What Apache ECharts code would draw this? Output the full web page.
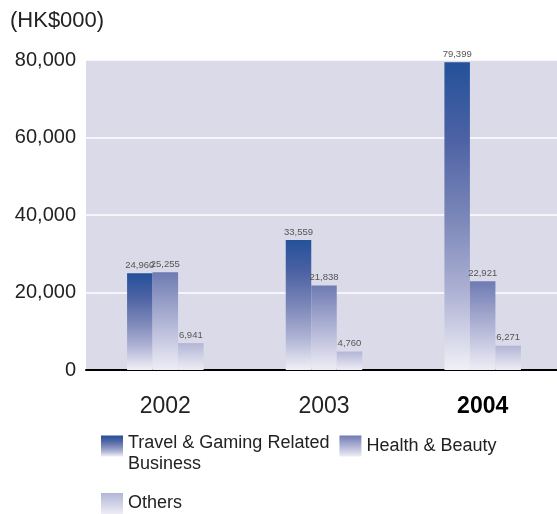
<!DOCTYPE html>
<html>
<head>
<meta charset="utf-8">
<script src="https://cdn.jsdelivr.net/npm/echarts@6/dist/echarts.min.js"></script>
<style>html,body{margin:0;padding:0;background:#fff;}#c{width:557px;height:514px;}</style>
</head>
<body>
<div id="c"></div>
<script>
const categories = ['2002', '2003', '2004'];
const seriesNames = ['Travel & Gaming Related\nBusiness', 'Health & Beauty', 'Others'];
const travel = [24960, 33559, 79399];
const health = [25255, 21838, 22921];
const others = [6941, 4760, 6271];
const unitLabel = '(HK$000)';

const FONT = "'Liberation Sans', Arial, Helvetica, sans-serif";
function grad(stops) {
  return new echarts.graphic.LinearGradient(0, 0, 0, 1, stops.map((c, i) => ({ offset: i / (stops.length - 1), color: c })));
}
const colors = [
  grad(['#23519a', '#4d62a4', '#7a86b8', '#aeb2d4', '#f1f0f7']),
  grad(['#6e7ab2', '#9aa1c9', '#c4c6e0', '#eeedf5']),
  grad(['#b2b5d6', '#d0d1e6', '#eeedf5'])
];
const chart = echarts.init(document.getElementById('c'), null, { renderer: 'canvas' });
const values = [travel, health, others];
const label = {
  show: true, position: 'top', distance: 3, fontSize: 9.5, color: '#555', fontFamily: FONT,
  formatter: p => echarts.format.addCommas(p.value)
};
const legendText = { fontSize: 18, color: '#222', lineHeight: 21, fontFamily: FONT, rich: { s: { lineHeight: 16, fontSize: 10 } } };
chart.setOption({
  animation: false,
  textStyle: { fontFamily: FONT },
  title: {
    text: unitLabel, left: 10, top: 10, padding: 0,
    textStyle: { fontSize: 22, fontWeight: 'normal', color: '#222', fontFamily: FONT }
  },
  legend: [
    {
      left: 101, top: 417, padding: 0, itemWidth: 22, itemHeight: 21, itemGap: 10,
      selectedMode: false, icon: 'rect',
      textStyle: legendText,
      formatter: n => n === seriesNames[0] ? '{s| }\n' + n : n,
      data: [seriesNames[0], seriesNames[1]]
    },
    {
      left: 101, top: 493, padding: 0, itemWidth: 22, itemHeight: 21,
      selectedMode: false, icon: 'rect',
      textStyle: legendText,
      data: [seriesNames[2]]
    }
  ],
  grid: {
    left: 86, width: 476, top: 60, bottom: 144,
    outerBoundsMode: 'none', containLabel: false,
    show: true, backgroundColor: '#dadae9', borderWidth: 0
  },
  xAxis: {
    type: 'category', data: categories,
    axisLine: { lineStyle: { color: '#000', width: 2 } },
    axisTick: { show: false },
    axisLabel: {
      fontSize: 23, color: '#222', margin: 25, fontFamily: FONT,
      formatter: v => v === '2004' ? '{b|' + v + '}' : v,
      rich: { b: { fontSize: 23, fontWeight: 'bold', color: '#000', fontFamily: FONT } }
    }
  },
  yAxis: {
    type: 'value', min: 0, max: 80000, interval: 20000,
    axisLine: { show: false }, axisTick: { show: false },
    splitLine: { lineStyle: { color: '#fff', width: 1.5 } },
    axisLabel: {
      fontSize: 20, color: '#222', margin: 10, fontFamily: FONT,
      formatter: v => echarts.format.addCommas(v)
    }
  },
  series: seriesNames.map((n, i) => ({
    name: n, type: 'bar', data: values[i], barWidth: 25.5, barGap: '0%',
    itemStyle: { color: colors[i] },
    label: label
  }))
});
</script>
</body>
</html>
